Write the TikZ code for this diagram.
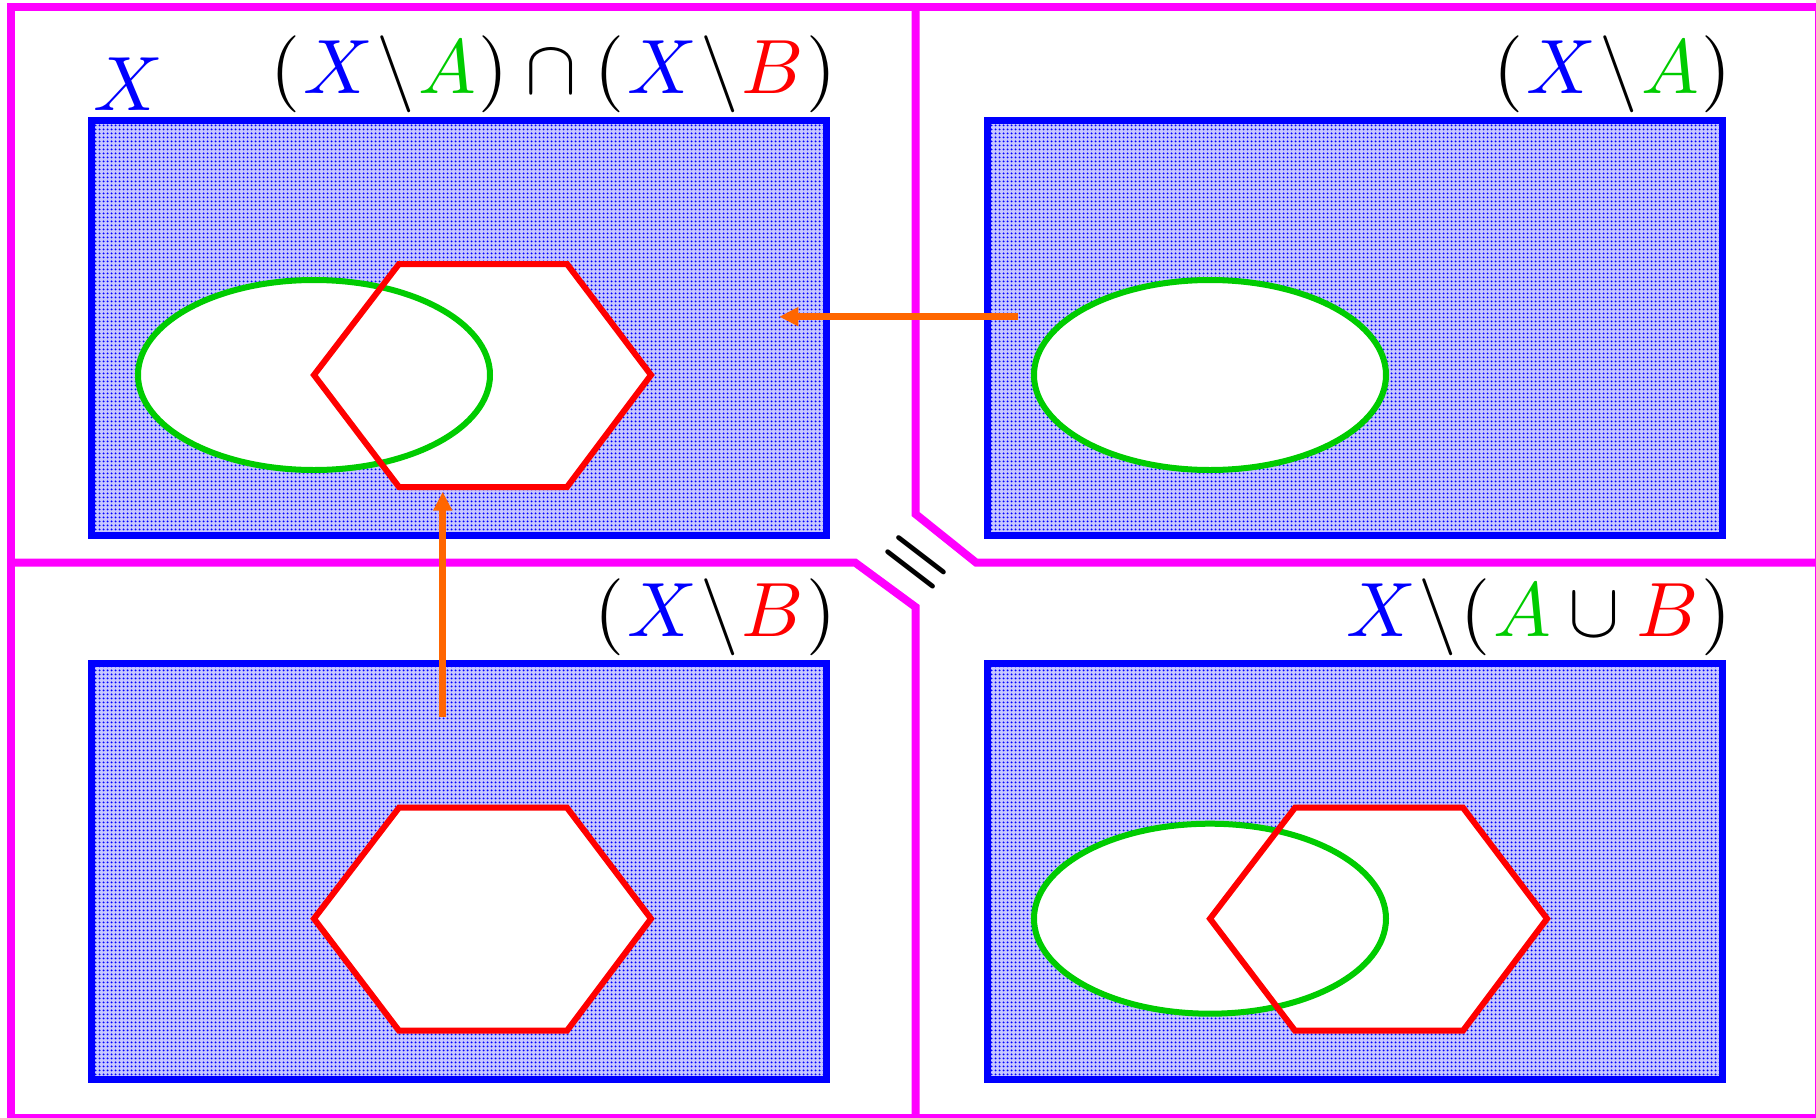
\documentclass[tikz,border=0pt]{standalone}
\usetikzlibrary{patterns.meta,arrows.meta}
\definecolor{mag}{RGB}{255,0,255}
\definecolor{grn}{RGB}{0,204,0}
\definecolor{org}{RGB}{255,102,0}
\tikzdeclarepattern{name=bdots, type=uncolored,
  bounding box={(-2pt,-2pt) and (2pt,2pt)},
  tile size={(4pt,4pt)},
  code={\fill (0pt,0pt) circle (1.3pt);}}
\newcommand\gp{\mkern0.7mu}
\newcommand\stm{\gp\backslash\gp}
\newcommand\bX{\textcolor{blue}{X}}
\newcommand\gA{\textcolor{grn}{A}}
\newcommand\rB{\textcolor{red}{B}}
\newcommand\bigtxt{\scalebox{7.7}}
\begin{document}
\begin{tikzpicture}[x=1pt,y=-1pt,
  frame/.style={draw=mag,line width=8pt,line join=miter},
  universe/.style={fill=blue!22,postaction={pattern=bdots,pattern color=blue}},
  ubord/.style={draw=blue,line width=7pt},
  setA/.style={draw=grn,line width=6pt},
  setB/.style={draw=red,line width=6pt},
  arr/.style={draw=org,line width=6.5pt,-{Triangle[length=19pt,width=18pt]}},
  lab/.style={inner sep=0pt,anchor=base east,font=\normalsize},
]
\useasboundingbox (0,0) rectangle (1816,1117);
\fill[white] (0,0) rectangle (1816,1117);

% ---- top left panel
\fill[universe] (91.5,120) rectangle (826.5,535.5);
\fill[white] (314,375) ellipse [x radius=176,y radius=95];
\fill[white] (314,375) -- (399,264) -- (567,264) -- (651,375) -- (567,487) -- (399,487) -- cycle;
\draw[setA] (314,375) ellipse [x radius=176,y radius=95];
\draw[setB] (314,375) -- (399,264) -- (567,264) -- (651,375) -- (567,487) -- (399,487) -- cycle;
\draw[ubord] (91.5,120) rectangle (826.5,535.5);
\node[lab] (tTL) at (837,93) {\bigtxt{$(\gp\bX\stm\gA\gp)\cap(\gp\bX\stm\rB\gp)$}};
\node[inner sep=0pt,anchor=base west,font=\normalsize] (lX) at (93,110.7) {\bigtxt{$\bX$}};

% ---- top right panel
\begin{scope}[shift={(896,0)}]
\fill[universe] (91.5,120) rectangle (826.5,535.5);
\fill[white] (314,375) ellipse [x radius=176,y radius=95];
\draw[setA] (314,375) ellipse [x radius=176,y radius=95];
\draw[ubord] (91.5,120) rectangle (826.5,535.5);
\node[lab] (tTR) at (836,93) {\bigtxt{$(\gp\bX\stm\gA\gp)$}};
\end{scope}

% ---- bottom left panel
\begin{scope}[shift={(0,543.7)}]
\fill[universe] (91.5,120) rectangle (826.5,535.5);
\fill[white] (314,375) -- (399,264) -- (567,264) -- (651,375) -- (567,487) -- (399,487) -- cycle;
\draw[setB] (314,375) -- (399,264) -- (567,264) -- (651,375) -- (567,487) -- (399,487) -- cycle;
\draw[ubord] (91.5,120) rectangle (826.5,535.5);
\node[lab] (tBL) at (837,93) {\bigtxt{$(\gp\bX\stm\rB\gp)$}};
\end{scope}

% ---- bottom right panel
\begin{scope}[shift={(896,543.7)}]
\fill[universe] (91.5,120) rectangle (826.5,535.5);
\fill[white] (314,375) ellipse [x radius=176,y radius=95];
\fill[white] (314,375) -- (399,264) -- (567,264) -- (651,375) -- (567,487) -- (399,487) -- cycle;
\draw[setA] (314,375) ellipse [x radius=176,y radius=95];
\draw[setB] (314,375) -- (399,264) -- (567,264) -- (651,375) -- (567,487) -- (399,487) -- cycle;
\draw[ubord] (91.5,120) rectangle (826.5,535.5);
\node[lab] (tBR) at (836,93) {\bigtxt{$\bX\stm(\gp\gA\cup\rB\gp)$}};
\end{scope}

% ---- magenta frames
\draw[frame] (11,7) rectangle (1818.5,1118);
\draw[frame] (915.5,7) -- (915.5,514) -- (976,562.5) -- (1818.5,562.5);
\draw[frame] (11,562.5) -- (855,562.5) -- (915.5,607) -- (915.5,1118);

% ---- equals sign
\node[inner sep=0pt,rotate=-37.5,anchor=base,font=\normalsize] (eq) at (916,562)
  {\scalebox{8}{\raisebox{-2.5pt}{\boldmath$=$}}};

% ---- arrows
\coordinate (a1s) at (1018,316.7);
\coordinate (a1e) at (779.3,316.7);
\coordinate (a2s) at (442.7,716.7);
\coordinate (a2e) at (442.7,491.7);
\draw[arr] (a1s) -- (a1e);
\draw[arr] (a2s) -- (a2e);
\end{tikzpicture}
\end{document}
